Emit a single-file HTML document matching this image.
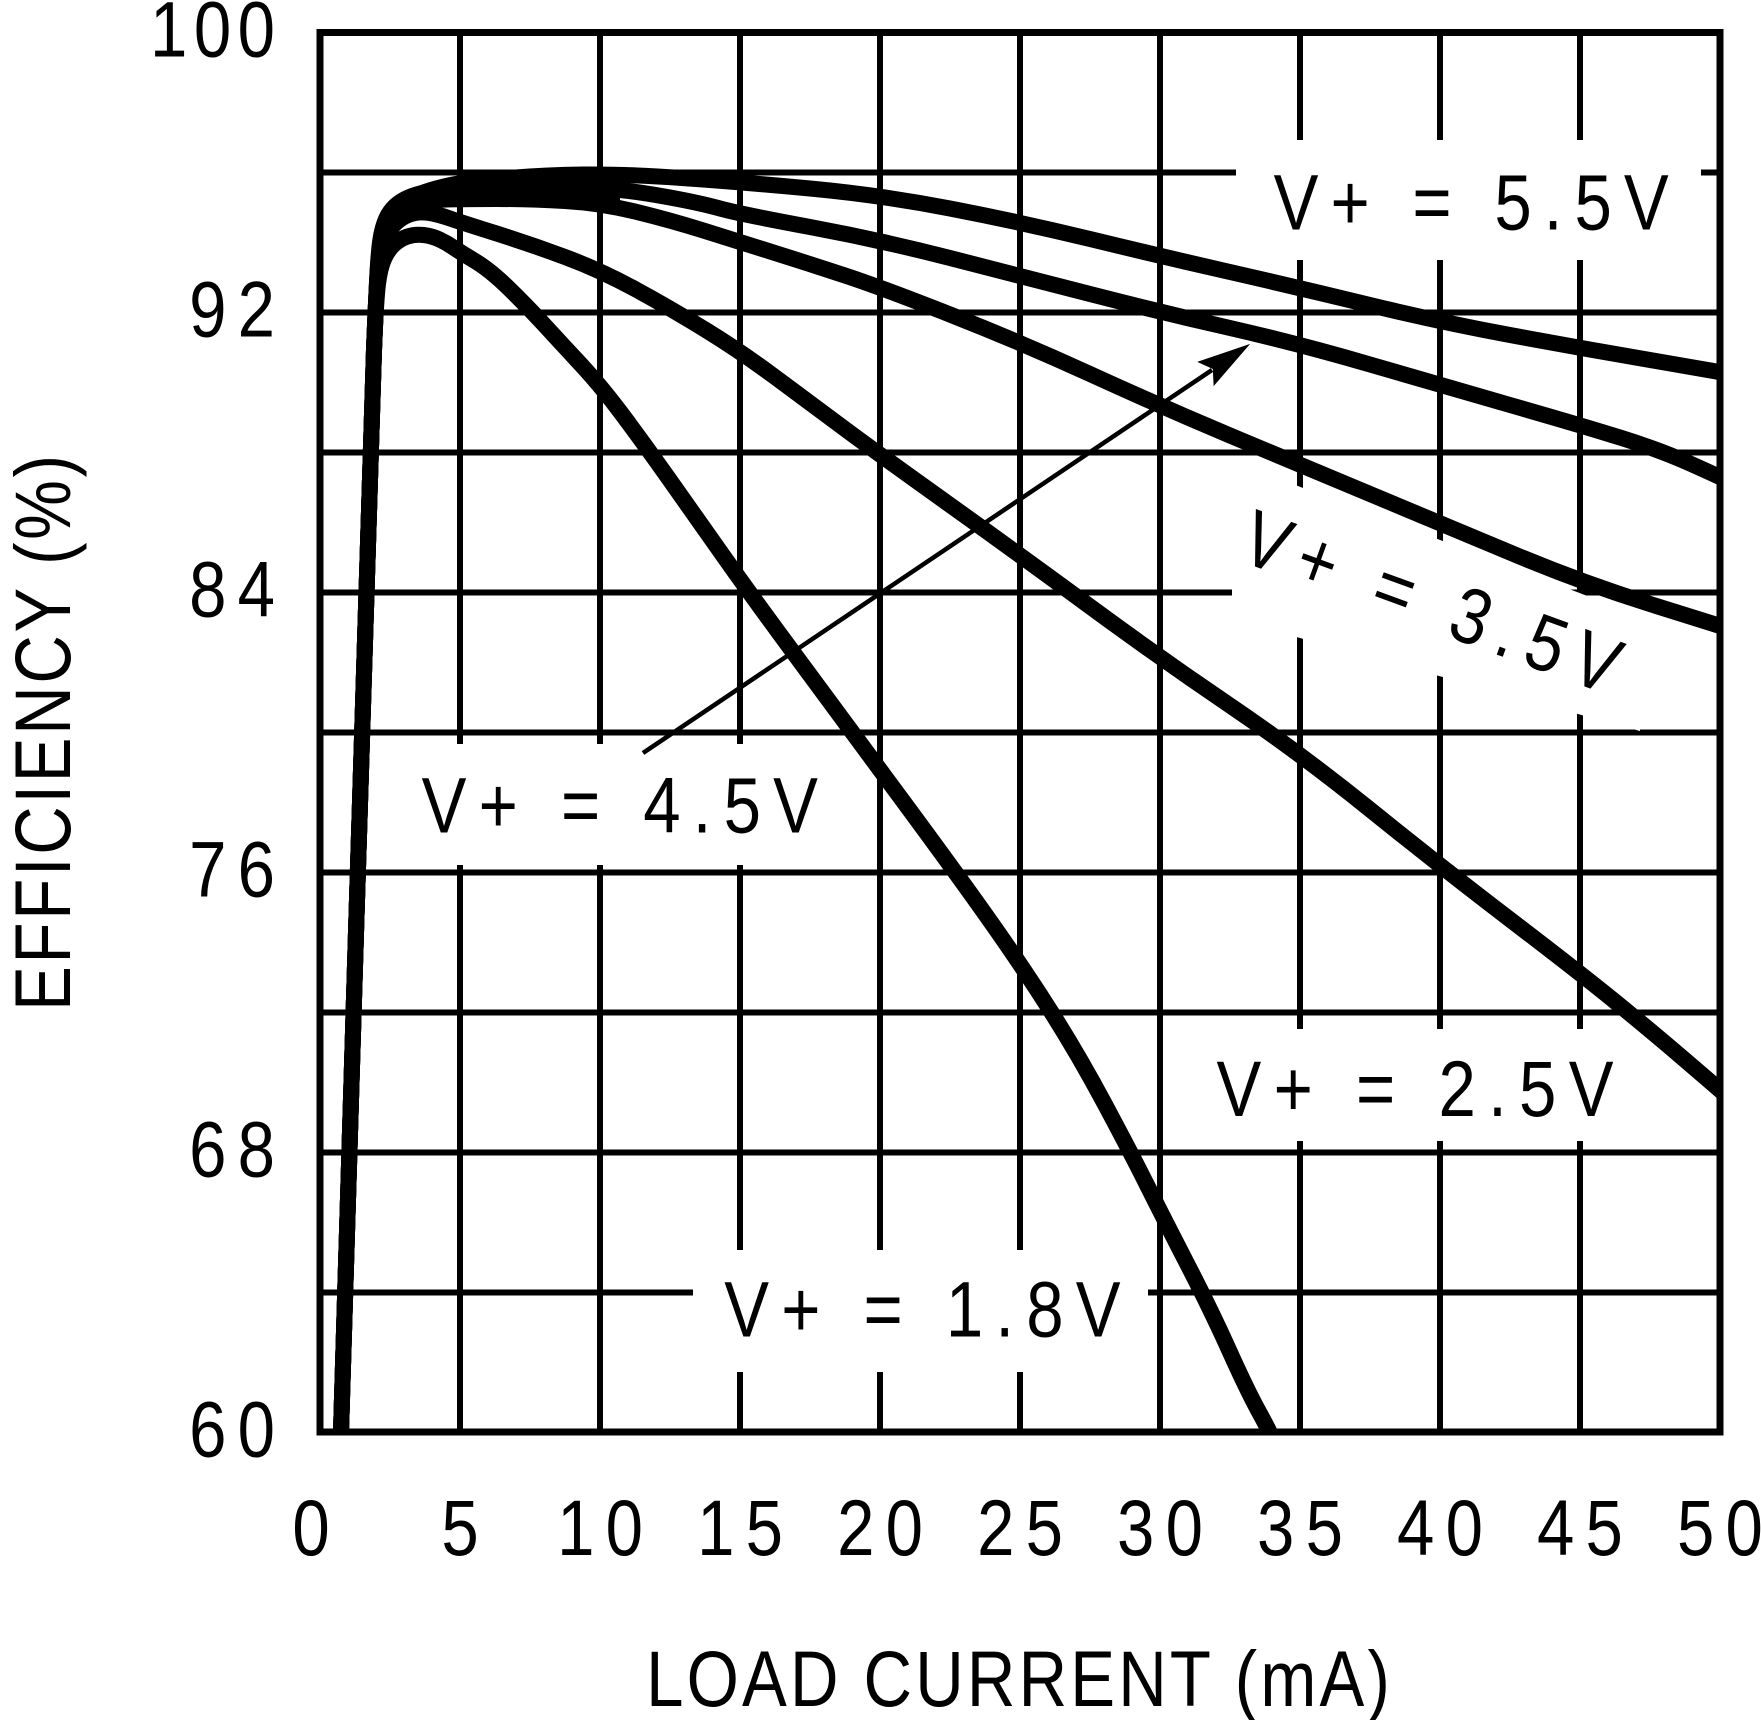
<!DOCTYPE html>
<html>
<head>
<meta charset="utf-8">
<style>
html,body{margin:0;padding:0;background:#fff;}
svg{display:block;}
text{font-family:"Liberation Sans",Arial,sans-serif;font-size:79px;fill:#000;}
</style>
</head>
<body>
<svg width="1761" height="1720" viewBox="0 0 1761 1720" xmlns="http://www.w3.org/2000/svg">
<defs>
<clipPath id="plot"><rect x="320" y="32.5" width="1400" height="1399.5"/></clipPath>
</defs>
<rect x="0" y="0" width="1761" height="1720" fill="#fff"/>
<!-- grid -->
<g stroke="#000" stroke-width="6">
<line x1="460" y1="32.5" x2="460" y2="1432"/>
<line x1="600" y1="32.5" x2="600" y2="1432"/>
<line x1="740" y1="32.5" x2="740" y2="1432"/>
<line x1="880" y1="32.5" x2="880" y2="1432"/>
<line x1="1020" y1="32.5" x2="1020" y2="1432"/>
<line x1="1160" y1="32.5" x2="1160" y2="1432"/>
<line x1="1300" y1="32.5" x2="1300" y2="1432"/>
<line x1="1440" y1="32.5" x2="1440" y2="1432"/>
<line x1="1580" y1="32.5" x2="1580" y2="1432"/>
<line x1="320" y1="172.5" x2="1720" y2="172.5"/>
<line x1="320" y1="312.5" x2="1720" y2="312.5"/>
<line x1="320" y1="452.5" x2="1720" y2="452.5"/>
<line x1="320" y1="592.5" x2="1720" y2="592.5"/>
<line x1="320" y1="732.5" x2="1720" y2="732.5"/>
<line x1="320" y1="872.5" x2="1720" y2="872.5"/>
<line x1="320" y1="1012.5" x2="1720" y2="1012.5"/>
<line x1="320" y1="1152.5" x2="1720" y2="1152.5"/>
<line x1="320" y1="1292.5" x2="1720" y2="1292.5"/>
</g>
<!-- label masks -->
<g fill="#fff">
<rect x="1236" y="140" width="465" height="120"/>
<rect x="390" y="744" width="460" height="121"/>
<rect x="1185" y="1029" width="460" height="112"/>
<rect x="693" y="1250" width="455" height="122"/>
<polygon points="1232,461 1640,616 1640,731 1300,638 1232,619"/>
</g>
<!-- border -->
<rect x="320" y="32.5" width="1400" height="1399.5" fill="none" stroke="#000" stroke-width="7"/>
<!-- merged band near peak -->
<polygon points="421,193.5 446,186 463,182 502,178.5 542,175 583,174.5 620,174.5 620,207 600,203 565,201 530,199 496,199 463,199 446,199.5 421,202" fill="#000"/>
<!-- curves -->
<g clip-path="url(#plot)" fill="none" stroke="#000" stroke-width="16" stroke-linejoin="round" stroke-linecap="butt">
<path d="M341,1432 L356.5,916 Q372,400 374,350 Q376,300 377.5,274 Q379,248 382.5,234 Q386,220 393,212.5 Q400,205 406.5,201 Q413,197 421,193.5 Q429,190 446,186 Q463,182 502.5,178.5 Q542,175 583,174.5 Q624,174 682,178 Q740,182 810,188.5 Q880,195 950,208.5 Q1020,222 1090,239 Q1160,256 1230,272 Q1300,288 1370,305 Q1440,322 1510,335 Q1580,348 1650,360 Q1720,372 1725,373 L1730,374"/>
<path d="M341,1432 L356.5,916 Q372,400 374,350 Q376,300 377.5,272.5 Q379,245 381.5,233.5 Q384,222 388,215 Q392,208 398,203.5 Q404,199 412,196 Q420,193 432.5,191 Q445,189 462.5,188 Q480,187 510,186.5 Q540,186 570,187 Q600,188 620,190 Q640,192 670,197.5 Q700,203 720,208.5 Q740,214 810,227 Q880,240 950,258 Q1020,276 1090,294 Q1160,312 1230,328 Q1300,344 1370,364.5 Q1440,385 1510,405 Q1580,425 1620,437.5 Q1660,450 1690,463.5 Q1720,477 1725,479.5 L1730,482"/>
<path d="M341,1432 L356.5,916 Q372,400 374,350 Q376,300 377.5,275 Q379,250 382,238 Q385,226 389.5,219 Q394,212 401,208 Q408,204 419,202 Q430,200 446.5,199.5 Q463,199 496.5,199 Q530,199 565,201 Q600,203 635,211.5 Q670,220 705,231 Q740,242 775,253 Q810,264 845,275.5 Q880,287 950,314.5 Q1020,342 1090,374 Q1160,406 1230,435.5 Q1300,465 1370,494 Q1440,523 1510,552.5 Q1580,582 1650,604 Q1720,626 1725,627.5 L1730,629"/>
<path d="M341,1432 L356.5,916 Q372,400 374,350 Q376,300 377.5,278 Q379,256 382.5,245 Q386,234 392,227 Q398,220 405,216.5 Q412,213 418.5,212.5 Q425,212 432.5,213.5 Q440,215 450,218.5 Q460,222 495,233 Q530,244 565,257 Q600,270 635,289 Q670,308 705,329.5 Q740,351 775,377 Q810,403 845,429 Q880,455 950,505 Q1020,555 1090,606.5 Q1160,658 1230,705.5 Q1300,753 1370,809.5 Q1440,866 1510,919.5 Q1580,973 1615,1001.5 Q1650,1030 1685,1060 Q1720,1090 1725,1094.5 L1730,1099"/>
<path d="M341,1432 L356.5,916 Q372,400 374,350 Q376,300 378,284 Q380,268 384,259 Q388,250 394,244.5 Q400,239 407.5,236.5 Q415,234 423.5,235 Q432,236 439.5,239.5 Q447,243 453.5,247.5 Q460,252 475,261 Q490,270 508.5,288 Q527,306 543.5,324 Q560,342 580,363.5 Q600,385 620,411.5 Q640,438 668,477.5 Q696,517 722,554 Q748,591 800,661.5 Q852,732 903,801 Q954,870 988,918 Q1022,966 1050,1010 Q1078,1054 1104.5,1103.5 Q1131,1153 1147,1185 Q1163,1217 1187,1263.5 Q1211,1310 1229,1350 Q1247,1390 1258.5,1411 Q1270,1432 1272.5,1438.5 L1275,1445"/>
<polyline points="330,1445 341,1432"/>
</g>
<!-- arrow -->
<line x1="643" y1="753" x2="1212" y2="370" stroke="#000" stroke-width="4.5"/>
<polygon points="1247,346 1214.5,383.6 1213.8,368.4 1199.9,362" fill="#000" stroke="#000" stroke-width="2" stroke-linejoin="miter"/>
<!-- curve labels -->
<text transform="scale(0.85,1)" x="1498.4" y="229.3" textLength="464.7" lengthAdjust="spacing">V+ = 5.5V</text>
<text transform="scale(0.85,1)" x="496.1" y="832.7" textLength="466.2" lengthAdjust="spacing">V+ = 4.5V</text>
<text transform="scale(0.85,1)" x="1431.2" y="1116" textLength="467" lengthAdjust="spacing">V+ = 2.5V</text>
<text transform="scale(0.85,1)" x="852.1" y="1336.7" textLength="466.2" lengthAdjust="spacing">V+ = 1.8V</text>
<text transform="translate(1237,560) rotate(20) scale(0.85,1)" x="0" y="0" textLength="465" lengthAdjust="spacing">V+ = 3.5V</text>
<!-- y tick labels -->
<g text-anchor="end">
<text transform="scale(0.85,1)" x="323.5" y="56.5" textLength="147" lengthAdjust="spacing">100</text>
<text transform="scale(0.85,1)" x="323.5" y="336.5" textLength="101" lengthAdjust="spacing">92</text>
<text transform="scale(0.85,1)" x="323.5" y="616.5" textLength="101" lengthAdjust="spacing">84</text>
<text transform="scale(0.85,1)" x="323.5" y="896.5" textLength="101" lengthAdjust="spacing">76</text>
<text transform="scale(0.85,1)" x="323.5" y="1176.5" textLength="101" lengthAdjust="spacing">68</text>
<text transform="scale(0.85,1)" x="323.5" y="1456.5" textLength="101" lengthAdjust="spacing">60</text>
</g>
<!-- x tick labels -->
<g text-anchor="middle">
<text transform="scale(0.85,1)" x="365.9" y="1555">0</text>
<text transform="scale(0.85,1)" x="541.2" y="1555">5</text>
<text transform="scale(0.85,1)" x="705.9" y="1555" textLength="101" lengthAdjust="spacing">10</text>
<text transform="scale(0.85,1)" x="870.6" y="1555" textLength="101" lengthAdjust="spacing">15</text>
<text transform="scale(0.85,1)" x="1035.3" y="1555" textLength="101" lengthAdjust="spacing">20</text>
<text transform="scale(0.85,1)" x="1200" y="1555" textLength="101" lengthAdjust="spacing">25</text>
<text transform="scale(0.85,1)" x="1364.7" y="1555" textLength="101" lengthAdjust="spacing">30</text>
<text transform="scale(0.85,1)" x="1529.4" y="1555" textLength="101" lengthAdjust="spacing">35</text>
<text transform="scale(0.85,1)" x="1694.1" y="1555" textLength="101" lengthAdjust="spacing">40</text>
<text transform="scale(0.85,1)" x="1858.8" y="1555" textLength="101" lengthAdjust="spacing">45</text>
<text transform="scale(0.85,1)" x="2023.5" y="1555" textLength="101" lengthAdjust="spacing">50</text>
</g>
<!-- axis titles -->
<text transform="scale(0.85,1)" x="1197.6" y="1706" text-anchor="middle" textLength="875" lengthAdjust="spacing">LOAD CURRENT (mA)</text>
<text transform="translate(70,733) rotate(-90) scale(0.85,1)" x="0" y="0" text-anchor="middle" textLength="654" lengthAdjust="spacing">EFFICIENCY (%)</text>
</svg>
</body>
</html>
